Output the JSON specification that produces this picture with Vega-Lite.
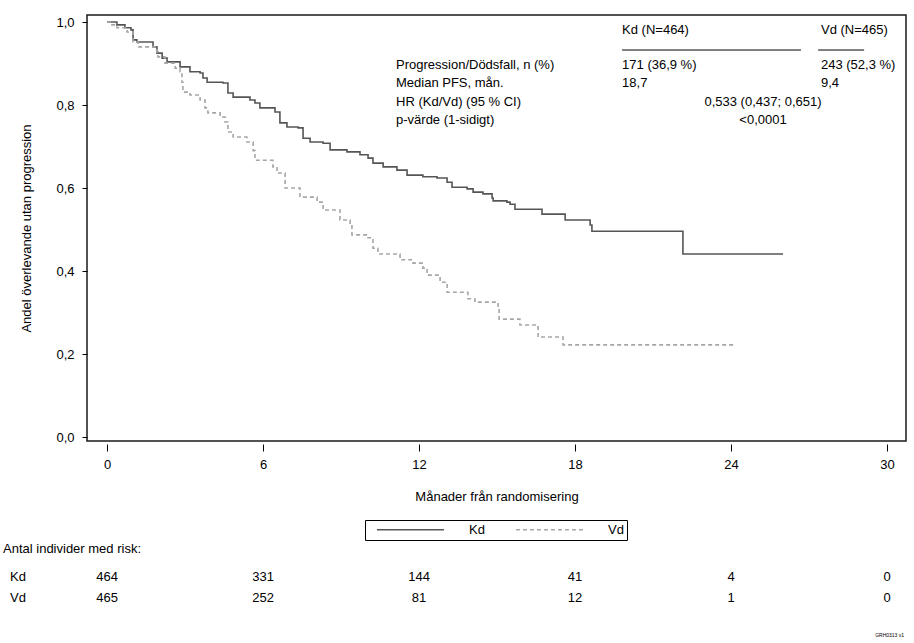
{
  "$schema": "https://vega.github.io/schema/vega-lite/v6.json",
  "width": 819,
  "height": 426,
  "autosize": {"type": "none"},
  "padding": {"left": 87, "top": 15, "right": 8, "bottom": 202},
  "background": "white",
  "config": {
    "font": "Liberation Sans",
    "view": {"stroke": "#1a1a1a", "strokeWidth": 1.5},
    "axis": {
      "labelFont": "Liberation Sans", "labelFontSize": 13, "labelColor": "black",
      "titleFont": "Liberation Sans", "titleFontSize": 13, "titleFontWeight": "normal", "titleColor": "black",
      "tickColor": "black", "tickWidth": 1, "grid": false, "domain": false, "labelFlush": false
    },
    "text": {"font": "Liberation Sans", "fontSize": 13, "color": "black"}
  },
  "datasets": {
    "one": [{}],
    "km": [
      {"arm": "Kd", "month": 0, "surv": 1.0},
      {"arm": "Kd", "month": 0.38, "surv": 0.993},
      {"arm": "Kd", "month": 0.69, "surv": 0.986},
      {"arm": "Kd", "month": 0.92, "surv": 0.981},
      {"arm": "Kd", "month": 1.0, "surv": 0.957},
      {"arm": "Kd", "month": 1.15, "surv": 0.952},
      {"arm": "Kd", "month": 1.77, "surv": 0.94},
      {"arm": "Kd", "month": 1.92, "surv": 0.925},
      {"arm": "Kd", "month": 2.12, "surv": 0.913},
      {"arm": "Kd", "month": 2.31, "surv": 0.904},
      {"arm": "Kd", "month": 2.81, "surv": 0.892},
      {"arm": "Kd", "month": 3.19, "surv": 0.88},
      {"arm": "Kd", "month": 3.58, "surv": 0.877},
      {"arm": "Kd", "month": 3.69, "surv": 0.865},
      {"arm": "Kd", "month": 3.85, "surv": 0.855},
      {"arm": "Kd", "month": 4.46, "surv": 0.853},
      {"arm": "Kd", "month": 4.65, "surv": 0.829},
      {"arm": "Kd", "month": 4.85, "surv": 0.819},
      {"arm": "Kd", "month": 5.5, "surv": 0.812},
      {"arm": "Kd", "month": 5.69, "surv": 0.805},
      {"arm": "Kd", "month": 5.88, "surv": 0.793},
      {"arm": "Kd", "month": 6.46, "surv": 0.783},
      {"arm": "Kd", "month": 6.65, "surv": 0.757},
      {"arm": "Kd", "month": 6.92, "surv": 0.747},
      {"arm": "Kd", "month": 7.35, "surv": 0.745},
      {"arm": "Kd", "month": 7.54, "surv": 0.72},
      {"arm": "Kd", "month": 7.81, "surv": 0.711},
      {"arm": "Kd", "month": 8.31, "surv": 0.708},
      {"arm": "Kd", "month": 8.58, "surv": 0.692},
      {"arm": "Kd", "month": 9.23, "surv": 0.687},
      {"arm": "Kd", "month": 9.73, "surv": 0.68},
      {"arm": "Kd", "month": 10.04, "surv": 0.672},
      {"arm": "Kd", "month": 10.23, "surv": 0.66},
      {"arm": "Kd", "month": 10.62, "surv": 0.651},
      {"arm": "Kd", "month": 11.15, "surv": 0.643},
      {"arm": "Kd", "month": 11.54, "surv": 0.631},
      {"arm": "Kd", "month": 12.15, "surv": 0.627},
      {"arm": "Kd", "month": 12.69, "surv": 0.624},
      {"arm": "Kd", "month": 13.08, "surv": 0.614},
      {"arm": "Kd", "month": 13.27, "surv": 0.602},
      {"arm": "Kd", "month": 13.85, "surv": 0.598},
      {"arm": "Kd", "month": 14.08, "surv": 0.59},
      {"arm": "Kd", "month": 14.46, "surv": 0.586},
      {"arm": "Kd", "month": 14.81, "surv": 0.576},
      {"arm": "Kd", "month": 14.85, "surv": 0.569},
      {"arm": "Kd", "month": 15.38, "surv": 0.566},
      {"arm": "Kd", "month": 15.5, "surv": 0.561},
      {"arm": "Kd", "month": 15.69, "surv": 0.549},
      {"arm": "Kd", "month": 16.73, "surv": 0.537},
      {"arm": "Kd", "month": 17.62, "surv": 0.523},
      {"arm": "Kd", "month": 18.58, "surv": 0.511},
      {"arm": "Kd", "month": 18.65, "surv": 0.496},
      {"arm": "Kd", "month": 22.15, "surv": 0.441},
      {"arm": "Kd", "month": 26.0, "surv": 0.441},
      {"arm": "Vd", "month": 0, "surv": 1.0},
      {"arm": "Vd", "month": 0.19, "surv": 0.993},
      {"arm": "Vd", "month": 0.38, "surv": 0.986},
      {"arm": "Vd", "month": 0.77, "surv": 0.976},
      {"arm": "Vd", "month": 1.0, "surv": 0.952},
      {"arm": "Vd", "month": 1.19, "surv": 0.94},
      {"arm": "Vd", "month": 1.92, "surv": 0.928},
      {"arm": "Vd", "month": 1.96, "surv": 0.916},
      {"arm": "Vd", "month": 2.23, "surv": 0.901},
      {"arm": "Vd", "month": 2.62, "surv": 0.889},
      {"arm": "Vd", "month": 2.81, "surv": 0.88},
      {"arm": "Vd", "month": 2.88, "surv": 0.855},
      {"arm": "Vd", "month": 2.92, "surv": 0.831},
      {"arm": "Vd", "month": 3.19, "surv": 0.824},
      {"arm": "Vd", "month": 3.58, "surv": 0.812},
      {"arm": "Vd", "month": 3.77, "surv": 0.793},
      {"arm": "Vd", "month": 3.88, "surv": 0.781},
      {"arm": "Vd", "month": 4.35, "surv": 0.771},
      {"arm": "Vd", "month": 4.54, "surv": 0.759},
      {"arm": "Vd", "month": 4.65, "surv": 0.735},
      {"arm": "Vd", "month": 4.85, "surv": 0.723},
      {"arm": "Vd", "month": 5.38, "surv": 0.711},
      {"arm": "Vd", "month": 5.62, "surv": 0.69},
      {"arm": "Vd", "month": 5.69, "surv": 0.667},
      {"arm": "Vd", "month": 6.38, "surv": 0.651},
      {"arm": "Vd", "month": 6.54, "surv": 0.636},
      {"arm": "Vd", "month": 6.85, "surv": 0.6},
      {"arm": "Vd", "month": 7.42, "surv": 0.578},
      {"arm": "Vd", "month": 8.08, "surv": 0.566},
      {"arm": "Vd", "month": 8.31, "surv": 0.547},
      {"arm": "Vd", "month": 8.96, "surv": 0.523},
      {"arm": "Vd", "month": 9.35, "surv": 0.511},
      {"arm": "Vd", "month": 9.42, "surv": 0.487},
      {"arm": "Vd", "month": 10.04, "surv": 0.48},
      {"arm": "Vd", "month": 10.23, "surv": 0.455},
      {"arm": "Vd", "month": 10.42, "surv": 0.441},
      {"arm": "Vd", "month": 11.27, "surv": 0.427},
      {"arm": "Vd", "month": 11.77, "surv": 0.419},
      {"arm": "Vd", "month": 12.15, "surv": 0.407},
      {"arm": "Vd", "month": 12.31, "surv": 0.39},
      {"arm": "Vd", "month": 12.81, "surv": 0.373},
      {"arm": "Vd", "month": 13.08, "surv": 0.349},
      {"arm": "Vd", "month": 13.88, "surv": 0.333},
      {"arm": "Vd", "month": 14.15, "surv": 0.325},
      {"arm": "Vd", "month": 15.04, "surv": 0.311},
      {"arm": "Vd", "month": 15.08, "surv": 0.284},
      {"arm": "Vd", "month": 15.88, "surv": 0.27},
      {"arm": "Vd", "month": 16.58, "surv": 0.241},
      {"arm": "Vd", "month": 17.54, "surv": 0.222},
      {"arm": "Vd", "month": 24.08, "surv": 0.222}
    ],
    "risk": [
      {"arm": "Kd", "month": 0, "n": 464},
      {"arm": "Kd", "month": 6, "n": 331},
      {"arm": "Kd", "month": 12, "n": 144},
      {"arm": "Kd", "month": 18, "n": 41},
      {"arm": "Kd", "month": 24, "n": 4},
      {"arm": "Kd", "month": 30, "n": 0},
      {"arm": "Vd", "month": 0, "n": 465},
      {"arm": "Vd", "month": 6, "n": 252},
      {"arm": "Vd", "month": 12, "n": 81},
      {"arm": "Vd", "month": 18, "n": 12},
      {"arm": "Vd", "month": 24, "n": 1},
      {"arm": "Vd", "month": 30, "n": 0}
    ]
  },
  "layer": [
    {
      "data": {"name": "km"},
      "mark": {"type": "line", "interpolate": "step-after", "strokeWidth": 1.6},
      "encoding": {
        "x": {
          "field": "month", "type": "quantitative",
          "scale": {"domain": [-0.77, 30.73], "nice": false, "zero": false},
          "axis": {"values": [0, 6, 12, 18, 24, 30], "title": "Månader från randomisering", "offset": 3, "tickSize": 7, "labelPadding": 7, "titlePadding": 19}
        },
        "y": {
          "field": "surv", "type": "quantitative",
          "scale": {"domain": [-0.0096, 1.0169], "nice": false, "zero": false},
          "axis": {"values": [0, 0.2, 0.4, 0.6, 0.8, 1], "labelExpr": "replace(format(datum.value, '.1f'), '.', ',')", "tickSize": 5, "labelPadding": 8, "titlePadding": 22, "title": "Andel överlevande utan progression"}
        },
        "color": {
          "field": "arm", "type": "nominal",
          "scale": {"domain": ["Kd", "Vd"], "range": ["#555555", "#a6a6a6"]},
          "legend": {"title": null, "orient": "none", "legendX": 278, "legendY": 505, "direction": "horizontal", "symbolType": "stroke", "symbolSize": 4500, "symbolStrokeWidth": 1.6, "clipHeight": 13, "labelFontSize": 13, "labelFont": "Liberation Sans", "labelColor": "black", "labelOffset": 24, "columnPadding": 22, "padding": 3, "strokeColor": "black", "symbolOffset": 8}
        },
        "strokeDash": {
          "field": "arm", "type": "nominal",
          "scale": {"domain": ["Kd", "Vd"], "range": [[1, 0], [4, 3]]},
          "legend": {"title": null, "orient": "none", "legendX": 278, "legendY": 505, "direction": "horizontal", "symbolType": "stroke", "symbolSize": 4500, "symbolStrokeWidth": 1.6, "clipHeight": 13, "labelFontSize": 13, "labelFont": "Liberation Sans", "labelColor": "black", "labelOffset": 24, "columnPadding": 22, "padding": 3, "strokeColor": "black", "symbolOffset": 8}
        }
      }
    },
    {
      "data": {"name": "one"},
      "mark": {"type": "rule", "color": "black", "strokeWidth": 1},
      "encoding": {"x": {"datum": 19.81}, "x2": {"datum": 26.69}, "y": {"datum": 0.9325}}
    },
    {
      "data": {"name": "one"},
      "mark": {"type": "rule", "color": "black", "strokeWidth": 1},
      "encoding": {"x": {"datum": 27.35}, "x2": {"datum": 29.12}, "y": {"datum": 0.9325}}
    },
    {
      "data": {"name": "one"},
      "mark": {"type": "text", "align": "left", "baseline": "top", "text": "Kd (N=464)"},
      "encoding": {"x": {"datum": 19.81}, "y": {"datum": 0.995}}
    },
    {
      "data": {"name": "one"},
      "mark": {"type": "text", "align": "left", "baseline": "top", "text": "Vd (N=465)"},
      "encoding": {"x": {"datum": 27.46}, "y": {"datum": 0.995}}
    },
    {
      "data": {"name": "one"},
      "mark": {"type": "text", "align": "left", "baseline": "top", "lineHeight": 18.3, "text": ["Progression/Dödsfall, n (%)", "Median PFS, mån.", "HR (Kd/Vd) (95 % CI)", "p-värde (1-sidigt)"]},
      "encoding": {"x": {"datum": 11.115}, "y": {"datum": 0.911}}
    },
    {
      "data": {"name": "one"},
      "mark": {"type": "text", "align": "left", "baseline": "top", "lineHeight": 18.3, "text": ["171 (36,9 %)", "18,7"]},
      "encoding": {"x": {"datum": 19.81}, "y": {"datum": 0.911}}
    },
    {
      "data": {"name": "one"},
      "mark": {"type": "text", "align": "left", "baseline": "top", "lineHeight": 18.3, "text": ["243 (52,3 %)", "9,4"]},
      "encoding": {"x": {"datum": 27.46}, "y": {"datum": 0.911}}
    },
    {
      "data": {"name": "one"},
      "mark": {"type": "text", "align": "center", "baseline": "top", "lineHeight": 18.3, "text": ["0,533 (0,437; 0,651)", "<0,0001"]},
      "encoding": {"x": {"datum": 25.23}, "y": {"datum": 0.8217}}
    },
    {
      "data": {"name": "one"},
      "mark": {"type": "text", "align": "left", "baseline": "top", "text": "Antal individer med risk:"},
      "encoding": {"x": {"datum": -4.0}, "y": {"datum": -0.2542}}
    },
    {
      "data": {"name": "one"},
      "mark": {"type": "text", "align": "left", "baseline": "top", "lineHeight": 21, "text": ["Kd", "Vd"]},
      "encoding": {"x": {"datum": -3.73}, "y": {"datum": -0.3217}}
    },
    {
      "data": {"name": "risk"},
      "transform": [{"filter": "datum.arm === 'Kd'"}],
      "mark": {"type": "text", "align": "center", "baseline": "top"},
      "encoding": {"x": {"field": "month", "type": "quantitative"}, "y": {"datum": -0.3217}, "text": {"field": "n", "type": "quantitative"}}
    },
    {
      "data": {"name": "risk"},
      "transform": [{"filter": "datum.arm === 'Vd'"}],
      "mark": {"type": "text", "align": "center", "baseline": "top"},
      "encoding": {"x": {"field": "month", "type": "quantitative"}, "y": {"datum": -0.3723}, "text": {"field": "n", "type": "quantitative"}}
    },
    {
      "data": {"name": "one"},
      "mark": {"type": "text", "align": "center", "baseline": "middle", "fontSize": 5, "text": "GRH0313 v1"},
      "encoding": {"x": {"datum": 30.1}, "y": {"datum": -0.478}}
    }
  ]
}
